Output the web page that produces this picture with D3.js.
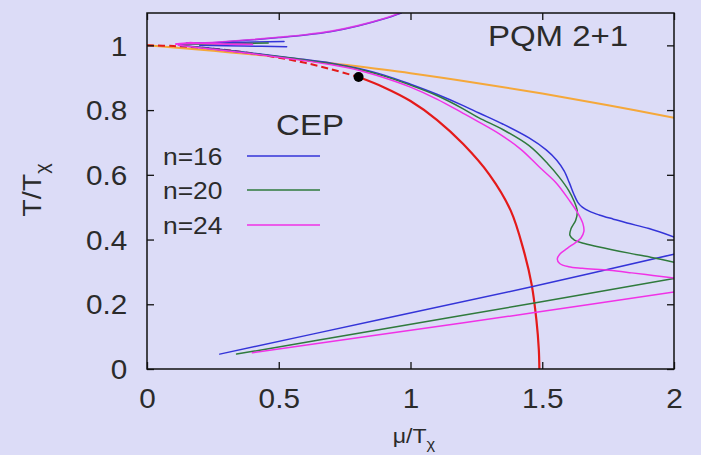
<!DOCTYPE html>
<html>
<head>
<meta charset="utf-8">
<script src="https://cdn.jsdelivr.net/npm/d3@7"></script>
<style>
  html, body { margin: 0; padding: 0; background: #dcdcf7; }
  svg { display: block; }
  text { font-family: "Liberation Sans", Arial, sans-serif; fill: #2b2b2b; }
</style>
</head>
<body>
<svg id="chart" width="701" height="455"></svg>
<script>
// Axis ticks
const xTicks = [0, 0.5, 1, 1.5, 2];
const yTicks = [0, 0.2, 0.4, 0.6, 0.8, 1];

// Series labels
const seriesNames = ["n=16", "n=20", "n=24"];

// Chiral crossover (orange)
const crossover = [[0,1.0],[0.25,0.983],[0.5,0.964],[0.75,0.94],[1.0,0.914],[1.25,0.884],[1.5,0.851],[1.75,0.815],[2.0,0.776]];

// Phase boundary: dashed crossover part and solid first-order line (red)
const redDashed = [[0,1.0],[0.1,0.998],[0.2,0.993],[0.3,0.986],[0.4,0.975],[0.5,0.962],[0.6,0.946],[0.7,0.926],[0.803,0.902]];
const redSolid = [[0.803,0.902],[0.9,0.87],[1.0,0.828],[1.1,0.77],[1.2,0.695],[1.3,0.6],[1.38,0.49],[1.43,0.365],[1.46,0.26],[1.478,0.15],[1.487,0.06],[1.489,0.0]];

// Critical end point
const cep = [0.803, 0.902];

// n=16 (blue)
const blueMain = [[0.12,1.0],[0.25,0.99],[0.4,0.976],[0.55,0.961],[0.7,0.945],[0.8,0.929],[0.9,0.908],[1.0,0.88],[1.1,0.849],[1.2,0.814],[1.26,0.791],[1.35,0.757],[1.45,0.714],[1.515,0.677],[1.555,0.645],[1.583,0.612],[1.603,0.575],[1.62,0.54],[1.635,0.515],[1.652,0.5],[1.68,0.487],[1.716,0.476],[1.77,0.463],[1.822,0.451],[1.905,0.434],[2.0,0.408]];
const blueLow = [[0.276,0.046],[0.88,0.152],[1.46,0.254],[2.0,0.355]];
const blueSpurA = [[0.15,1.007],[0.33,1.009],[0.52,1.012]];
const blueSpurB = [[0.2,1.0],[0.37,0.998],[0.53,0.996]];
const blueRise = [[0.12,1.003],[0.2,1.006],[0.3,1.011],[0.4,1.017],[0.5,1.024],[0.6,1.032],[0.7,1.043],[0.8,1.06],[0.9,1.082],[0.965,1.1]];

// n=20 (green)
const greenMain = [[0.12,1.0],[0.25,0.989],[0.4,0.975],[0.55,0.96],[0.7,0.943],[0.8,0.927],[0.9,0.905],[1.0,0.877],[1.1,0.845],[1.2,0.804],[1.26,0.776],[1.35,0.74],[1.45,0.69],[1.52,0.635],[1.565,0.592],[1.6,0.552],[1.62,0.52],[1.633,0.487],[1.627,0.46],[1.609,0.433],[1.605,0.413],[1.622,0.398],[1.66,0.388],[1.716,0.377],[1.83,0.358],[1.92,0.344],[2.0,0.33]];
const greenLow = [[0.34,0.046],[0.88,0.121],[1.47,0.204],[2.0,0.28]];
const greenSpur = [[0.14,1.004],[0.3,1.005],[0.46,1.007]];

// n=24 (magenta)
const magentaMain = [[0.12,1.0],[0.25,0.988],[0.4,0.974],[0.55,0.958],[0.7,0.94],[0.8,0.924],[0.9,0.9],[1.0,0.871],[1.1,0.834],[1.2,0.79],[1.26,0.763],[1.34,0.725],[1.42,0.678],[1.489,0.624],[1.553,0.575],[1.602,0.522],[1.635,0.482],[1.654,0.45],[1.658,0.425],[1.647,0.405],[1.625,0.39],[1.595,0.373],[1.568,0.356],[1.557,0.34],[1.566,0.326],[1.6,0.316],[1.652,0.311],[1.754,0.305],[1.84,0.297],[1.92,0.289],[2.0,0.281]];
const magentaLow = [[0.40,0.05],[0.88,0.106],[1.477,0.175],[2.0,0.238]];
const magentaRise = [[0.11,1.004],[0.2,1.007],[0.3,1.012],[0.4,1.018],[0.5,1.025],[0.6,1.033],[0.7,1.044],[0.8,1.061],[0.9,1.083],[0.96,1.1]];
const magentaSpur = [[0.11,1.004],[0.16,1.008],[0.21,1.006],[0.3,1.004],[0.4,1.003]];

const colors = { blue: "#3434d8", green: "#2f7a3c", magenta: "#f032e6", red: "#e41a1a", orange: "#f5a83a" };

const W = 701, H = 455;
const plot = { left: 147, right: 674, top: 13, bottom: 369 };

const svg = d3.select("#chart");
svg.append("rect").attr("width", W).attr("height", H).attr("fill", "#dcdcf7");

const x = d3.scaleLinear().domain([0, 2]).range([plot.left, plot.right]);
const y = d3.scaleLinear().domain([0, 1.1]).range([plot.bottom, plot.top]);

svg.append("clipPath").attr("id", "plotclip")
  .append("rect").attr("x", plot.left).attr("y", plot.top)
  .attr("width", plot.right - plot.left).attr("height", plot.bottom - plot.top);

const line = d3.line().x(d => x(d[0])).y(d => y(d[1])).curve(d3.curveCatmullRom.alpha(0.5));

const curves = svg.append("g").attr("clip-path", "url(#plotclip)").attr("fill", "none");

function draw(data, color, width, extra) {
  const p = curves.append("path").attr("d", line(data)).attr("stroke", color)
    .attr("stroke-width", width).attr("stroke-linejoin", "round").attr("stroke-linecap", "round");
  if (extra) extra(p);
  return p;
}

draw(crossover, colors.orange, 2);
draw(redDashed, colors.red, 2, p => p.attr("stroke-dasharray", "7,4").attr("stroke-linecap", "butt"));
draw(redSolid, colors.red, 2.2);

draw(blueRise, colors.blue, 1.5);
draw(blueSpurA, colors.blue, 1.5);
draw(blueSpurB, colors.blue, 1.5);
draw(greenSpur, colors.green, 1.5);
draw(blueMain, colors.blue, 1.5);
draw(blueLow, colors.blue, 1.5);
draw(greenMain, colors.green, 1.5);
draw(greenLow, colors.green, 1.5);
draw(magentaMain, colors.magenta, 1.5);
draw(magentaLow, colors.magenta, 1.5);
draw(magentaSpur, colors.magenta, 1.8);
draw(magentaRise, colors.magenta, 1.6, p => p.attr("stroke-opacity", 0.8));

svg.append("circle").attr("cx", x(cep[0])).attr("cy", y(cep[1])).attr("r", 5).attr("fill", "#000");

// Axes with inward ticks, mirrored on top and right
const tickLen = 7;
const axisG = svg.append("g");

const gx = axisG.append("g").attr("transform", `translate(0,${plot.bottom})`)
  .call(d3.axisBottom(x).tickValues(xTicks).tickSizeInner(-tickLen).tickSizeOuter(0).tickPadding(20).tickFormat(d3.format("")));
const gy = axisG.append("g").attr("transform", `translate(${plot.left},0)`)
  .call(d3.axisLeft(y).tickValues(yTicks).tickSizeInner(-tickLen).tickSizeOuter(0).tickPadding(18).tickFormat(d3.format("")));
axisG.append("g").attr("transform", `translate(0,${plot.top})`)
  .call(d3.axisTop(x).tickValues(xTicks).tickSizeInner(-tickLen).tickSizeOuter(0).tickFormat(""));
axisG.append("g").attr("transform", `translate(${plot.right},0)`)
  .call(d3.axisRight(y).tickValues(yTicks).tickSizeInner(-tickLen).tickSizeOuter(0).tickFormat(""));

axisG.selectAll(".domain").remove();
axisG.selectAll(".tick line").attr("stroke", "#111").attr("stroke-width", 1.3);
axisG.selectAll(".tick text")
  .attr("font-family", "Liberation Sans, Arial, sans-serif")
  .attr("font-size", 27)
  .attr("fill", "#2b2b2b").attr("transform", "scale(1.1,1)");
gy.selectAll(".tick text").attr("dy", "0.36em");
gx.selectAll(".tick text").attr("dy", "0.7em");

svg.append("rect").attr("x", plot.left).attr("y", plot.top)
  .attr("width", plot.right - plot.left).attr("height", plot.bottom - plot.top)
  .attr("fill", "none").attr("stroke", "#111").attr("stroke-width", 1.5);

// Text helper: slightly widened glyphs
function label(px, py, size, anchor, build, rotate) {
  const g = svg.append("g").attr("transform", `translate(${px},${py})${rotate ? ` rotate(${rotate})` : ""} scale(1.1,1)`);
  const t = g.append("text").attr("font-size", size).attr("text-anchor", anchor);
  build(t);
  return t;
}

// Axis titles
label(414, 443, 21, "middle", t => {
  t.append("tspan").text("\u03bc/T");
  t.append("tspan").attr("font-size", 15).attr("dy", 6).text("\u03c7");
});
label(41, 190, 26, "middle", t => {
  t.append("tspan").text("T/T");
  t.append("tspan").attr("font-size", 18).attr("dy", 7).text("\u03c7");
}, -90);

// Annotations
label(558, 46, 30, "middle", t => t.text("PQM 2+1"));
label(310, 135, 30, "middle", t => t.text("CEP"));

// Legend
const legendY = [156, 190, 225];
const legendColors = [colors.blue, colors.green, colors.magenta];
seriesNames.forEach((name, i) => {
  label(163, legendY[i] + 8.5, 24, "start", t => t.text(name));
  svg.append("line").attr("x1", 247).attr("x2", 320).attr("y1", legendY[i]).attr("y2", legendY[i])
    .attr("stroke", legendColors[i]).attr("stroke-width", 1.5);
});
</script>
</body>
</html>
